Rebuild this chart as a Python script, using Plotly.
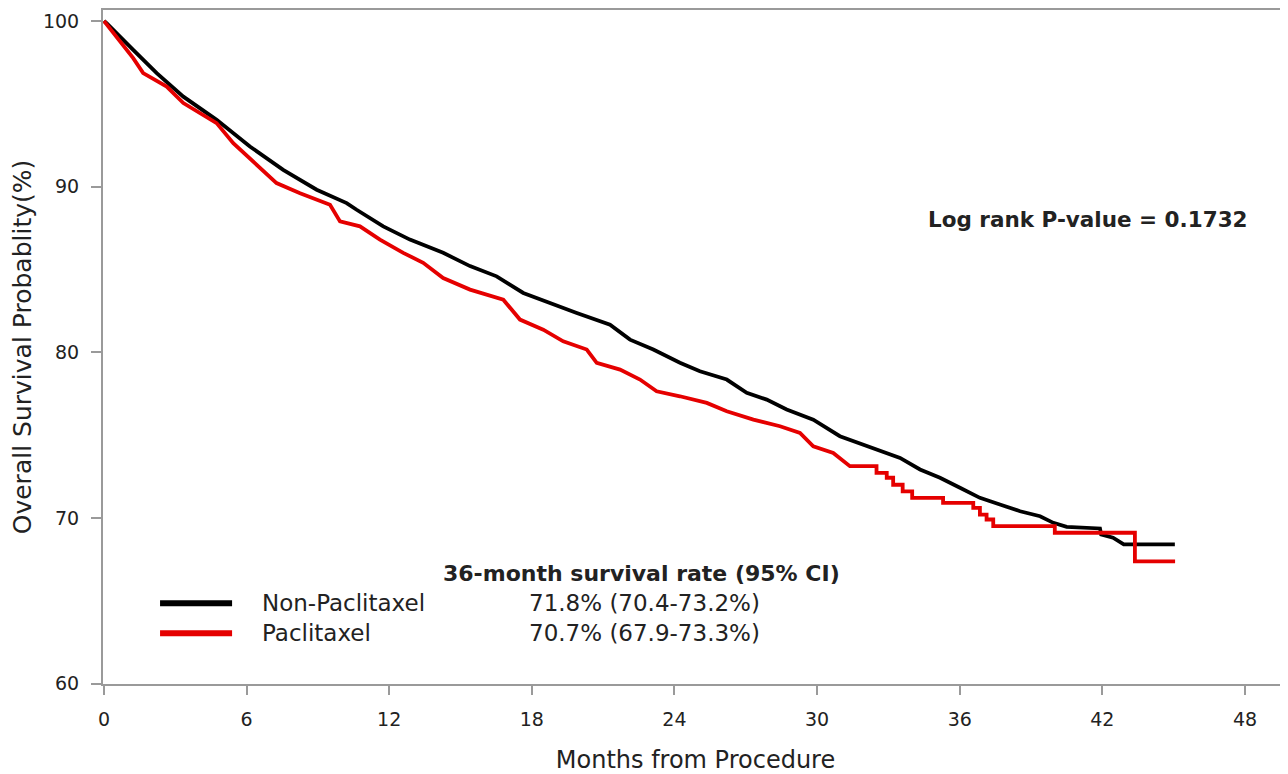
import plotly.graph_objects as go

# Non-Paclitaxel (black) survival curve, months vs % survival
non_pac_months = [0, 0.11, 1.23, 2.22, 3.34, 4.74, 6.14, 7.54, 8.95, 10.21, 10.63, 11.75,
                  12.87, 14.27, 15.4, 16.52, 17.64, 18.76, 19.89, 21.29, 22.13, 23.11, 24.23,
                  25.07, 26.2, 27.04, 27.88, 28.72, 29.84, 30.96, 32.09, 32.65, 33.49, 34.33,
                  35.17, 36.01, 36.85, 37.69, 38.54, 39.38, 39.94, 40.5, 41.06, 41.9, 41.95,
                  42.45, 42.9, 45.05]
non_pac_surv = [100, 99.86, 98.25, 96.85, 95.43, 94.03, 92.42, 91.01, 89.81, 89.0, 88.6, 87.6,
                86.8, 86.0, 85.2, 84.58, 83.58, 82.97, 82.37, 81.66, 80.76, 80.16, 79.36,
                78.85, 78.35, 77.55, 77.14, 76.54, 75.93, 74.93, 74.32, 74.02, 73.62, 72.92,
                72.42, 71.82, 71.21, 70.81, 70.4, 70.1, 69.7, 69.46, 69.4, 69.36, 69.0,
                68.8, 68.4, 68.4]

# Paclitaxel (red) survival curve
pac_months = [0, 0.6, 1.23, 1.65, 2.64, 3.34, 4.74, 5.44, 6.14, 7.26, 8.25, 8.95, 9.51, 9.93,
              10.77, 11.61, 12.59, 13.43, 14.27, 15.4, 16.38, 16.8, 17.5, 18.48, 19.32,
              20.31, 20.73, 21.71, 22.55, 23.25, 24.23, 25.36, 26.2, 27.32, 28.44, 29.28,
              29.84, 30.68, 31.38, 32.5, 32.5, 32.93, 32.93, 33.2, 33.2, 33.6, 33.6, 34.0,
              34.0, 35.3, 35.3, 36.57, 36.57, 36.85, 36.85, 37.13, 37.13, 37.41, 37.41,
              40.0, 40.0, 43.37, 43.37, 45.06]
pac_surv = [100, 98.9, 97.75, 96.85, 96.04, 95.04, 93.83, 92.62, 91.7, 90.21, 89.6, 89.2, 88.9, 87.9,
            87.6, 86.8, 86.0, 85.4, 84.48, 83.78, 83.37, 83.17, 81.97, 81.36, 80.66,
            80.16, 79.36, 78.95, 78.35, 77.64, 77.34, 76.94, 76.44, 75.93, 75.53, 75.13,
            74.32, 73.92, 73.12, 73.12, 72.72, 72.72, 72.42, 72.42, 72.0, 72.0, 71.6, 71.6,
            71.21, 71.21, 70.91, 70.91, 70.6, 70.6, 70.2, 70.2, 69.9, 69.9, 69.5,
            69.5, 69.1, 69.1, 67.37, 67.37]

x_ticks = [0, 6, 12, 18, 24, 30, 36, 42, 48]
y_ticks = [60, 70, 80, 90, 100]

group_names = ["Non-Paclitaxel", "Paclitaxel"]
group_colors = ["#000000", "#e50000"]
rate_texts = ["71.8% (70.4-73.2%)", "70.7% (67.9-73.3%)"]
legend_header = "36-month survival rate (95% CI)"
pvalue_text = "Log rank P-value = 0.1732"

FONT = "DejaVu Sans"
AXIS_GREY = "#9a9a9a"
TEXT = "#222222"

fig = go.Figure()
fig.add_trace(go.Scatter(x=non_pac_months, y=non_pac_surv, mode="lines",
                         line=dict(color=group_colors[0], width=3.8),
                         name=group_names[0], showlegend=False))
fig.add_trace(go.Scatter(x=pac_months, y=pac_surv, mode="lines",
                         line=dict(color=group_colors[1], width=3.8),
                         name=group_names[1], showlegend=False))

# legend-like block inside the plot
legend_y = [64.84, 63.03]
for i in range(2):
    fig.add_shape(type="line", xref="x", yref="y", x0=2.36, x1=5.39,
                  y0=legend_y[i], y1=legend_y[i],
                  line=dict(color=group_colors[i], width=6))
    fig.add_annotation(x=6.55, y=legend_y[i], xref="x", yref="y", text=group_names[i],
                       showarrow=False, xanchor="left", yanchor="middle",
                       font=dict(family=FONT, size=23, color=TEXT))
    fig.add_annotation(x=17.8, y=legend_y[i], xref="x", yref="y", text=rate_texts[i],
                       showarrow=False, xanchor="left", yanchor="middle",
                       font=dict(family=FONT, size=23, color=TEXT))
fig.add_annotation(x=22.63, y=66.62, xref="x", yref="y", text="<b>" + legend_header + "</b>",
                   showarrow=False, xanchor="center", yanchor="middle",
                   font=dict(family=FONT, size=22, color=TEXT))
fig.add_annotation(x=34.6, y=88.0, xref="x", yref="y", text="<b>" + pvalue_text + "</b>",
                   showarrow=False, xanchor="left", yanchor="middle",
                   font=dict(family=FONT, size=21.5, color=TEXT))

# the page body has an 8px margin, so the figure is made 8px smaller and offsets reduced
fig.update_layout(
    width=1280, height=766,
    margin=dict(l=95, r=0, t=2, b=90),
    paper_bgcolor="white", plot_bgcolor="white",
    font=dict(family=FONT, color=TEXT),
    showlegend=False,
)
fig.update_xaxes(
    range=[-0.04, 49.81], tickvals=x_ticks, ticktext=[str(v) for v in x_ticks],
    showgrid=False, zeroline=False,
    showline=True, linecolor=AXIS_GREY, linewidth=2, mirror=True,
    ticks="outside", ticklen=9, tickwidth=2, tickcolor=AXIS_GREY,
    tickfont=dict(family=FONT, size=19, color=TEXT), ticklabelstandoff=8,
    title=dict(text="Months from Procedure", font=dict(family=FONT, size=24, color=TEXT),
               standoff=23),
)
fig.update_yaxes(
    range=[59.97, 100.66], tickvals=y_ticks, ticktext=[str(v) for v in y_ticks],
    showgrid=False, zeroline=False,
    showline=True, linecolor=AXIS_GREY, linewidth=2, mirror=False,
    ticks="outside", ticklen=10, tickwidth=2, tickcolor=AXIS_GREY,
    tickfont=dict(family=FONT, size=19, color=TEXT), ticklabelstandoff=8,
    title=dict(text="Overall Survival Probablity(%)", font=dict(family=FONT, size=25, color=TEXT),
               standoff=6),
)

fig.write_html("out.html")
